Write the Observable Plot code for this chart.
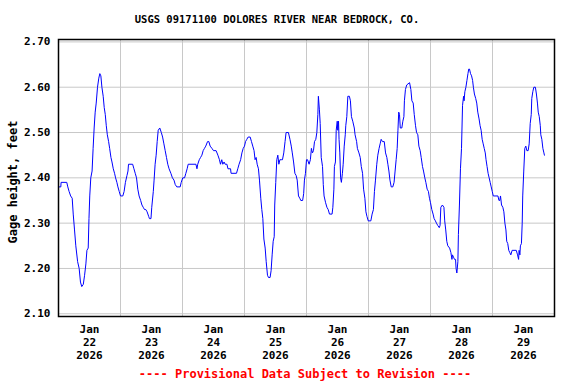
<!DOCTYPE html>
<html><head><meta charset="utf-8">
<script src="https://cdn.jsdelivr.net/npm/d3@7"></script>
<script src="https://cdn.jsdelivr.net/npm/@observablehq/plot@0.6"></script>
<style>
body{margin:0;background:#fff;}
#wrap{position:relative;width:576px;height:384px;font-family:"DejaVu Sans Mono",monospace;font-weight:bold;}
#title{position:absolute;top:13px;left:-11px;width:576px;text-align:center;font-size:10.5px;line-height:12px;color:#000;}
#cap{position:absolute;top:367px;left:17px;width:576px;text-align:center;font-size:12px;line-height:14px;color:#f00;}
#chart{position:absolute;top:0;left:0;}
</style></head><body>
<div id="wrap"><div id="chart"></div><div id="title"></div><div id="cap">---- Provisional Data Subject to Revision ----</div></div>
<script>
// Hours since 2026-01-22 00:00 and gage height (feet)
const hours = [0.0,0.9,1.0,3.2,3.6,4.1,4.7,5.3,5.7,6.2,6.7,7.4,8.0,8.5,9.0,9.6,10.1,10.6,11.0,11.5,11.8,12.1,12.5,13.0,13.4,13.8,14.2,14.6,15.1,15.6,16.0,16.4,16.8,17.3,17.7,18.1,18.5,18.9,19.4,19.8,20.3,20.7,21.2,21.7,22.1,22.6,23.0,23.5,24.0,24.9,25.4,25.9,26.5,26.9,27.1,28.7,29.2,29.7,30.2,30.7,31.2,31.8,32.3,32.8,33.3,33.8,34.3,34.9,35.2,35.8,36.1,36.7,37.0,37.4,37.8,38.2,38.6,39.2,39.8,40.3,40.8,41.3,41.8,42.3,42.8,43.5,44.1,44.7,45.2,45.8,47.1,47.5,48.1,48.8,49.3,49.8,50.2,53.2,53.6,53.9,54.5,55.0,55.5,56.0,56.5,57.0,57.7,58.2,58.7,59.4,60.0,61.0,61.7,62.3,62.7,63.2,63.6,64.1,64.5,65.2,65.6,66.6,66.8,68.9,69.4,69.9,70.5,71.0,71.5,72.0,72.4,72.9,73.4,74.2,74.7,75.2,75.7,76.1,76.5,76.9,77.4,77.8,78.3,78.7,79.1,79.5,80.0,80.4,80.9,81.3,81.9,82.3,82.7,83.1,83.5,83.7,84.1,84.5,84.9,85.3,85.7,86.2,86.7,87.2,87.7,88.1,89.0,89.6,90.1,90.5,91.0,91.5,92.0,92.4,92.9,93.4,93.8,94.5,94.9,95.2,95.6,96.0,96.4,97.0,97.5,97.9,98.3,98.7,99.1,99.6,100.0,100.4,100.6,101.0,101.3,101.7,102.2,102.5,102.8,103.4,103.9,104.4,104.9,105.9,106.2,106.6,106.8,107.2,107.5,107.9,108.1,108.4,108.6,108.9,109.2,109.5,109.9,110.2,110.6,111.0,111.2,111.6,112.0,112.6,113.0,113.4,113.9,114.5,114.8,115.4,115.7,116.3,116.8,117.2,117.7,118.1,118.6,119.0,119.4,119.9,120.9,121.4,121.9,122.3,122.7,123.2,123.6,124.1,124.5,124.9,125.4,126.1,126.6,127.1,127.5,127.9,128.3,128.8,129.4,129.9,130.3,130.7,131.1,131.4,131.7,132.0,132.3,132.9,133.3,133.7,133.9,134.3,134.8,135.9,136.4,136.8,137.3,137.7,138.2,138.6,139.1,139.5,140.0,140.4,140.9,141.3,141.8,142.2,142.7,143.2,143.6,144.0,144.5,145.0,145.4,145.9,146.3,146.8,147.4,147.7,148.0,148.6,149.2,149.5,149.9,150.3,150.7,151.4,151.9,152.3,152.5,152.9,153.3,153.7,153.9,154.2,154.6,154.8,155.2,155.6,156.0,156.4,156.8,157.0,157.3,157.7,158.1,158.5,158.8,159.1,159.5,159.9,160.3,160.6,161.0,161.5,161.9,162.3,162.8,163.2,163.6,164.0,164.4,164.8,165.2,165.5,165.9,166.3,166.7,167.1,167.5,167.9,168.3,170.1,170.5,170.8,171.1,171.5,172.0,172.4,172.8,173.2,173.5,173.9,174.3,174.7,175.1,175.6,177.2,177.7,178.1,178.3,178.6,178.8,179.2,179.5,179.7,180.1,180.5,180.9,181.3,181.8,182.2,182.6,183.0,183.2,183.6,184.0,184.6,185.0,185.4,185.7,186.1,186.5,186.7,187.1,187.5,187.9,188.1];
const gage = [2.38,2.38,2.39,2.39,2.38,2.37,2.36,2.355,2.32,2.285,2.25,2.215,2.20,2.17,2.16,2.165,2.185,2.21,2.24,2.245,2.31,2.36,2.40,2.415,2.465,2.51,2.545,2.565,2.60,2.62,2.63,2.625,2.60,2.58,2.555,2.54,2.515,2.495,2.48,2.465,2.445,2.435,2.42,2.41,2.40,2.39,2.38,2.37,2.36,2.36,2.37,2.39,2.405,2.415,2.43,2.43,2.42,2.41,2.40,2.375,2.36,2.35,2.34,2.335,2.33,2.33,2.325,2.315,2.31,2.31,2.335,2.37,2.395,2.43,2.45,2.48,2.505,2.51,2.50,2.49,2.475,2.46,2.445,2.43,2.42,2.41,2.40,2.395,2.385,2.38,2.38,2.39,2.40,2.40,2.41,2.42,2.43,2.43,2.42,2.43,2.44,2.445,2.45,2.46,2.465,2.47,2.48,2.48,2.47,2.465,2.46,2.46,2.45,2.44,2.43,2.44,2.43,2.435,2.43,2.43,2.42,2.42,2.41,2.41,2.42,2.43,2.44,2.455,2.465,2.47,2.48,2.485,2.49,2.49,2.48,2.47,2.46,2.44,2.445,2.43,2.42,2.395,2.355,2.33,2.31,2.265,2.245,2.215,2.185,2.18,2.18,2.195,2.23,2.26,2.27,2.34,2.39,2.44,2.45,2.43,2.44,2.44,2.44,2.455,2.48,2.50,2.50,2.485,2.47,2.455,2.435,2.41,2.405,2.395,2.36,2.355,2.35,2.35,2.365,2.395,2.41,2.44,2.44,2.43,2.44,2.465,2.455,2.46,2.48,2.485,2.50,2.54,2.58,2.55,2.52,2.445,2.425,2.385,2.36,2.345,2.335,2.33,2.32,2.32,2.335,2.375,2.425,2.435,2.505,2.525,2.505,2.525,2.485,2.455,2.40,2.39,2.41,2.43,2.47,2.495,2.515,2.535,2.58,2.58,2.57,2.535,2.525,2.51,2.495,2.48,2.465,2.455,2.445,2.425,2.41,2.375,2.355,2.325,2.315,2.305,2.305,2.32,2.33,2.37,2.395,2.43,2.45,2.465,2.475,2.485,2.48,2.48,2.455,2.445,2.43,2.415,2.395,2.38,2.38,2.39,2.415,2.44,2.465,2.505,2.545,2.54,2.51,2.51,2.525,2.535,2.57,2.595,2.605,2.61,2.595,2.57,2.565,2.54,2.515,2.50,2.495,2.47,2.46,2.445,2.425,2.415,2.40,2.39,2.375,2.37,2.355,2.345,2.33,2.32,2.31,2.305,2.30,2.295,2.29,2.295,2.335,2.34,2.335,2.305,2.285,2.26,2.25,2.245,2.235,2.22,2.23,2.225,2.22,2.22,2.20,2.19,2.215,2.275,2.34,2.42,2.465,2.56,2.58,2.57,2.59,2.60,2.615,2.63,2.64,2.64,2.63,2.625,2.615,2.60,2.585,2.575,2.565,2.545,2.53,2.515,2.505,2.485,2.475,2.465,2.455,2.44,2.425,2.41,2.40,2.39,2.38,2.37,2.36,2.36,2.35,2.35,2.36,2.34,2.335,2.325,2.30,2.285,2.26,2.255,2.24,2.235,2.23,2.24,2.24,2.23,2.22,2.24,2.23,2.25,2.255,2.30,2.36,2.415,2.465,2.47,2.46,2.46,2.475,2.52,2.54,2.575,2.59,2.60,2.60,2.585,2.565,2.545,2.535,2.515,2.495,2.485,2.465,2.455,2.45];
const tickDays = [22,23,24,25,26,27,28,29];
const tickMonth = "Jan";
const tickYear = 2026;
const yTicks = [2.10,2.20,2.30,2.40,2.50,2.60,2.70];
const titleText = "USGS 09171100 DOLORES RIVER NEAR BEDROCK, CO.";
const yLabel = "Gage height, feet";

const t0 = Date.UTC(2026,0,22);
const data = hours.map((h,i)=>({date:new Date(t0 + h*3600e3), value:gage[i]}));
const labelDates = tickDays.map(d=>new Date(Date.UTC(tickYear,0,d,12)));
const gridDates = tickDays.concat([30]).map(d=>new Date(Date.UTC(tickYear,0,d)));

const chart = Plot.plot({
  width:576, height:384,
  marginLeft:58, marginRight:22, marginTop:39, marginBottom:68,
  style:{fontFamily:"'DejaVu Sans Mono', monospace", fontSize:"11px", fontWeight:"bold", color:"#000", background:"#fff"},
  x:{type:"utc", domain:[new Date(t0), new Date(Date.UTC(2026,0,30))]},
  y:{domain:[2.094,2.7053]},
  marks:[
    Plot.gridX(gridDates,{stroke:"#c8c8c8", strokeOpacity:1, strokeWidth:1}),
    Plot.gridY(yTicks,{stroke:"#c8c8c8", strokeOpacity:1, strokeWidth:1}),
    Plot.line(data,{x:"date", y:"value", stroke:"#0000ff", strokeWidth:1}),
    Plot.frame({stroke:"#000", strokeWidth:1.5}),
    Plot.axisX(labelDates,{tickSize:0, tickPadding:8, lineHeight:1.15, tickFormat:d=>`${tickMonth}\n${d.getUTCDate()}\n${tickYear}`, label:null}),
    Plot.axisY(yTicks,{tickSize:0, tickPadding:8, tickFormat:d3.format(".2f"), label:null}),
    Plot.text([yLabel],{text:d=>d, frameAnchor:"left", textAnchor:"middle", rotate:-90, dx:-45, dy:4, fontSize:12, fontWeight:"bold", fill:"#000"})
  ]
});
document.getElementById("chart").appendChild(chart);
document.getElementById("title").textContent = titleText;
</script>
</body></html>
